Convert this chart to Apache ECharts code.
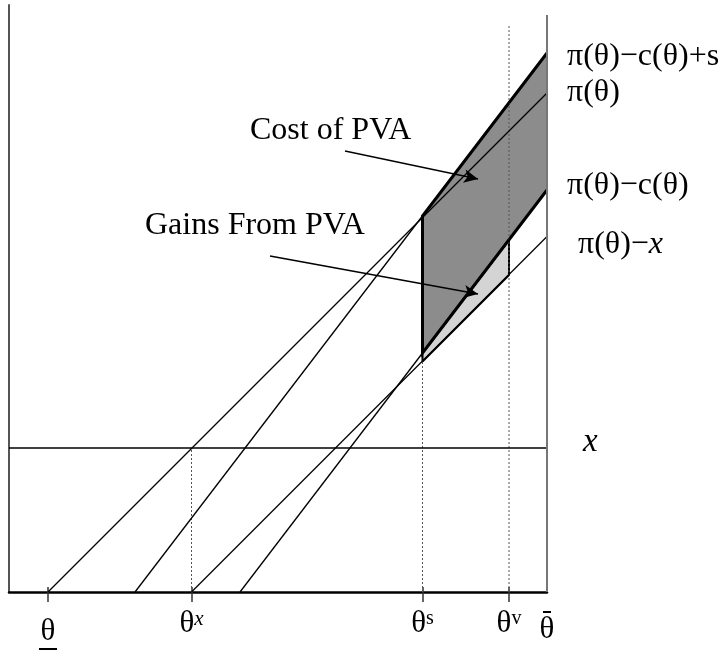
<!DOCTYPE html>
<html>
<head>
<meta charset="utf-8">
<script src="https://cdn.jsdelivr.net/npm/echarts@6/dist/echarts.min.js"></script>
<style>
  html, body { margin: 0; padding: 0; background: #fff; }
  #chart { width: 726px; height: 650px; }
</style>
</head>
<body>
<div id="chart"></div>
<script>
// positions on the theta axis (left edge = 0, theta-bar = 538)
var tickValues = [39, 182.5, 413.5, 500, 538];
var tickLabels = ['{sp| }\n{t|θ}\n{u| }', '{t|θ}{sx|x}', '{t|θ}{s|s}', '{t|θ}{s|v}', '{bar| }\n{t|θ}'];

// payoff lines, [theta, value] end points
var piLine = [[39, 0], [538, 499]];
var piCsLine = [[126, 0], [538, 539]];
var piCLine = [[231, 0], [538, 402]];
var piXLine = [[182.5, 0], [538, 355.5]];
var xLevel = [[0, 144], [538, 144]];

// dotted drops to the axis
var dropX = [[182.5, 0], [182.5, 144]];
var dropS = [[413.5, 0], [413.5, 230.5]];
var dropV = [[500, 0], [500, 567]];
var rightEdge = [[538, 0], [538, 577]];

// shaded regions
var costArea = [[538, 402], [413.5, 239], [413.5, 376], [538, 539]];
var gainArea = [[413.5, 230.5], [413.5, 239], [500, 352], [500, 317]];

// annotation arrows
var costArrow = [[336, 441], [469, 413]];
var gainArrow = [[261, 336], [469, 298]];

var serif = 'Liberation Serif';

function thinLine(name, data, label) {
	var s = {
		name: name,
		type: 'line',
		data: data,
		showSymbol: false,
		silent: true,
		lineStyle: { color: '#000', width: 1.3 },
		z: 3
	};
	if (label) {
		s.endLabel = label;
	}
	return s;
}

function dotted(data) {
	return {
		type: 'line',
		data: data,
		showSymbol: false,
		silent: true,
		lineStyle: { color: '#555', width: 1, type: [2, 2] },
		z: 2
	};
}

function endLbl(text, dist, dy, rich) {
	return {
		show: true,
		formatter: text,
		distance: dist,
		offset: [0, dy],
		fontFamily: serif,
		fontSize: 32,
		color: '#000',
		rich: rich || {}
	};
}

var polys = [
	{ pts: costArea, fill: '#8c8c8c', edge: [0, 1, 2, 3], width: 3 },
	{ pts: gainArea, fill: '#d4d4d4', edge: [0, 1, 2, 3, 0], width: 2 }
];

var chart = echarts.init(document.getElementById('chart'));

var option = {
	animation: false,
	backgroundColor: '#fff',
	grid: { left: 9, right: 179, top: 5, bottom: 58, outerBoundsMode: 'none' },
	xAxis: [{
		type: 'value',
		min: 0,
		max: 538,
		splitLine: { show: false },
		axisLine: { lineStyle: { color: '#000', width: 2.5 } },
		axisTick: { show: true, customValues: tickValues.slice(0, 4), length: 10, lineStyle: { color: '#333', width: 1.5 } },
		axisLabel: {
			show: true,
			customValues: tickValues,
			margin: 17,
			formatter: function (v) {
				return tickLabels[tickValues.indexOf(v)];
			},
			rich: {
				t: { fontFamily: serif, fontSize: 31, color: '#000', lineHeight: 30 },
				sp: { fontSize: 2, lineHeight: 8 },
				s: { fontFamily: serif, fontSize: 20, color: '#000', verticalAlign: 'top', lineHeight: 30 },
				sx: { fontFamily: serif, fontStyle: 'italic', fontSize: 21, color: '#000', verticalAlign: 'top', lineHeight: 30 },
				u: { width: 18, height: 2, lineHeight: 4, backgroundColor: '#000', fontSize: 2 },
				bar: { width: 8, height: 2, lineHeight: 6, backgroundColor: '#000', fontSize: 2 }
			}
		}
	}, {
		type: 'value',
		position: 'bottom',
		min: 0,
		max: 538,
		splitLine: { show: false },
		axisLine: { show: false },
		axisLabel: { show: false },
		axisTick: { show: true, inside: true, customValues: tickValues.slice(0, 4), length: 5, lineStyle: { color: '#333', width: 1.5 } }
	}],
	yAxis: {
		type: 'value',
		min: 0,
		max: 587,
		splitLine: { show: false },
		axisTick: { show: false },
		axisLabel: { show: false },
		axisLine: { show: true, lineStyle: { color: '#555', width: 2 } }
	},
	graphic: [
		{ type: 'text', left: 250, top: 115, style: { text: 'Cost of PVA', font: '32px "Liberation Serif"', fill: '#000' } },
		{ type: 'text', left: 145, top: 210, style: { text: 'Gains From PVA', font: '32px "Liberation Serif"', fill: '#000' } }
	],
	series: [
		{
			type: 'custom',
			silent: true,
			z: 1,
			data: [0, 1],
			renderItem: function (params, api) {
				var p = polys[params.dataIndex];
				var px = p.pts.map(function (d) { return api.coord(d); });
				var edge = p.edge.map(function (i) { return px[i]; });
				return {
					type: 'group',
					children: [
						{ type: 'polygon', shape: { points: px }, style: { fill: p.fill } },
						{ type: 'polyline', shape: { points: edge }, style: { stroke: '#000', lineWidth: p.width, fill: null }, z2: 5 }
					]
				};
			}
		},
		dotted(dropX),
		dotted(dropS),
		dotted(dropV),
		thinLine('π(θ)−c(θ)+s', piCsLine, endLbl('π(θ)−c(θ)+s', 20, 4)),
		thinLine('π(θ)', piLine, endLbl('π(θ)', 20, 0)),
		thinLine('π(θ)−c(θ)', piCLine, endLbl('π(θ)−c(θ)', 20, -4)),
		thinLine('π(θ)−x', piXLine, endLbl('π(θ)−{i|x}', 31, 8, { i: { fontFamily: serif, fontStyle: 'italic', fontSize: 32 } })),
		thinLine('x', xLevel, endLbl('{i|x}', 36, -6, { i: { fontFamily: serif, fontStyle: 'italic', fontSize: 33 } })),
		{
			type: 'line',
			data: rightEdge,
			showSymbol: false,
			silent: true,
			lineStyle: { color: '#777', width: 2 },
			z: 6
		},
		{
			type: 'line',
			data: [],
			silent: true,
			markLine: {
				silent: true,
				symbol: ['none', 'arrow'],
				symbolSize: [10, 14],
				label: { show: false },
				lineStyle: { color: '#000', width: 1.5, type: 'solid' },
				data: [
					[{ coord: costArrow[0] }, { coord: costArrow[1] }],
					[{ coord: gainArrow[0] }, { coord: gainArrow[1] }]
				]
			},
			z: 7
		}
	]
};

chart.setOption(option);
</script>
</body>
</html>
